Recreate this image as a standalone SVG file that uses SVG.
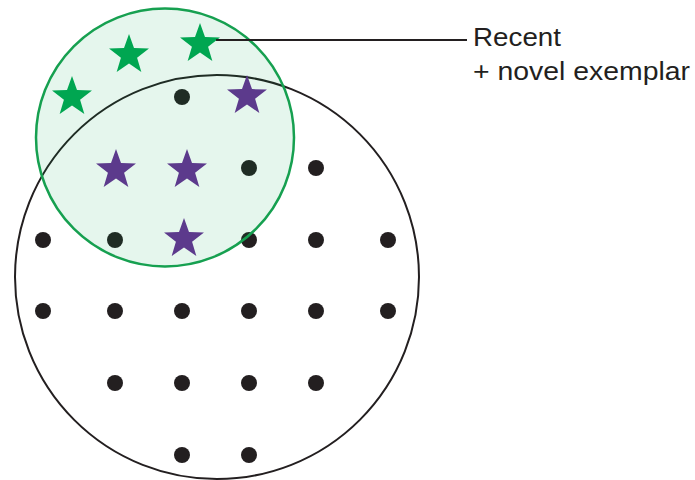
<svg xmlns="http://www.w3.org/2000/svg" xmlns:xlink="http://www.w3.org/1999/xlink" width="695" height="480" viewBox="0 0 695 480">
<style>
.dot{fill:#231f20}
.gs{fill:#00a651}
.ps{fill:#5c3a8c}
.lbl{font-family:"Liberation Sans",Arial,sans-serif;font-size:25.5px;fill:#231f20}
</style>
<defs>
<path id="star" d="M0,-21 L5,-6.88 L19.97,-6.49 L8.08,2.63 L12.34,16.99 L0,8.5 L-12.34,16.99 L-8.08,2.63 L-19.97,-6.49 L-5,-6.88 Z"/>
</defs>
<rect width="695" height="480" fill="#ffffff"/>
<g id="population">
<circle cx="217" cy="277" r="202" fill="none" stroke="#231f20" stroke-width="2"/>
</g>
<g id="dots">
<circle class="dot" cx="182" cy="97" r="8"/>
<circle class="dot" cx="249" cy="168" r="8"/>
<circle class="dot" cx="316" cy="168" r="8"/>
<circle class="dot" cx="43" cy="240" r="8"/>
<circle class="dot" cx="115" cy="240" r="8"/>
<circle class="dot" cx="249" cy="240" r="8"/>
<circle class="dot" cx="316" cy="240" r="8"/>
<circle class="dot" cx="388" cy="240" r="8"/>
<circle class="dot" cx="43" cy="311" r="8"/>
<circle class="dot" cx="115" cy="311" r="8"/>
<circle class="dot" cx="182" cy="311" r="8"/>
<circle class="dot" cx="249" cy="311" r="8"/>
<circle class="dot" cx="316" cy="311" r="8"/>
<circle class="dot" cx="388" cy="311" r="8"/>
<circle class="dot" cx="115" cy="383" r="8"/>
<circle class="dot" cx="182" cy="383" r="8"/>
<circle class="dot" cx="249" cy="383" r="8"/>
<circle class="dot" cx="316" cy="383" r="8"/>
<circle class="dot" cx="182" cy="455" r="8"/>
<circle class="dot" cx="249" cy="455" r="8"/>
</g>
<g id="recent-set">
<circle cx="165" cy="137.5" r="129" fill="#00a651" fill-opacity="0.1" stroke="#16a050" stroke-width="2.5"/>
</g>
<g id="green-stars">
<use xlink:href="#star" class="gs" x="129" y="55"/>
<use xlink:href="#star" class="gs" x="200" y="44"/>
<use xlink:href="#star" class="gs" x="72" y="97"/>
</g>
<g id="purple-stars">
<use xlink:href="#star" class="ps" x="247" y="96"/>
<use xlink:href="#star" class="ps" x="116" y="170"/>
<use xlink:href="#star" class="ps" x="187" y="170"/>
<use xlink:href="#star" class="ps" x="184" y="239"/>
</g>
<g id="connectors">
<line x1="216" y1="40" x2="467" y2="40" stroke="#231f20" stroke-width="2"/>
</g>
<g id="label">
<text class="lbl" x="473" y="46" textLength="88" lengthAdjust="spacingAndGlyphs">Recent</text>
<text class="lbl" x="473" y="80" textLength="217" lengthAdjust="spacingAndGlyphs">+ novel exemplar</text>
</g>
</svg>
